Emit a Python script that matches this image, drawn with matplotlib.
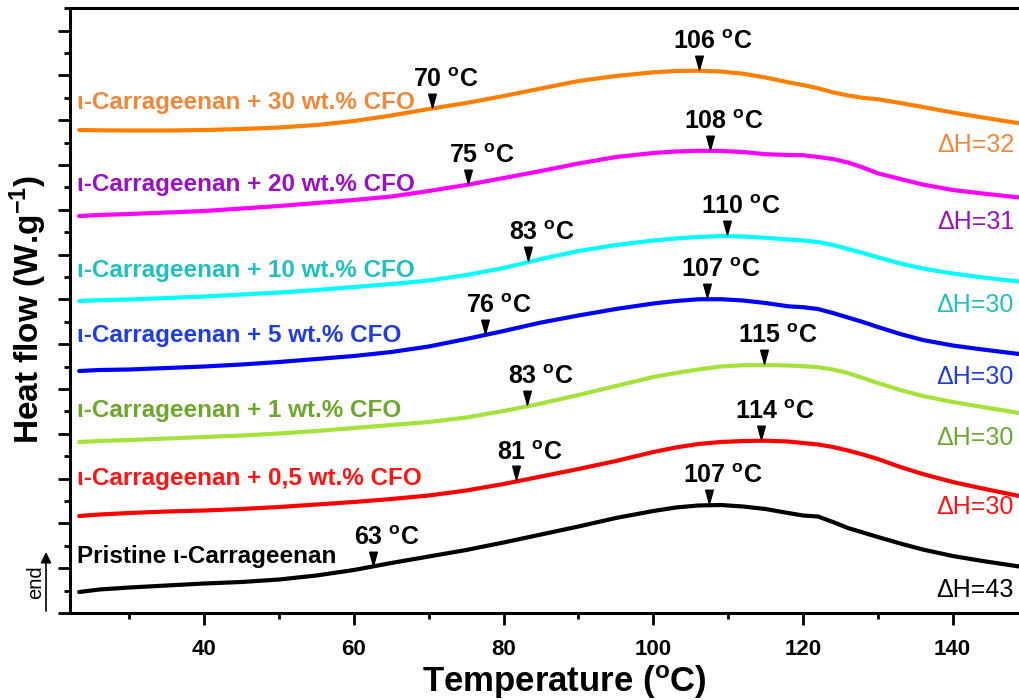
import matplotlib
matplotlib.use('Agg')
import matplotlib.pyplot as plt
import numpy as np
from matplotlib.path import Path
from matplotlib.ticker import MultipleLocator, NullFormatter

plt.rcParams['font.family'] = ['Liberation Sans', 'DejaVu Sans']
plt.rcParams['mathtext.fontset'] = 'custom'
plt.rcParams['mathtext.rm'] = 'Liberation Sans'
plt.rcParams['mathtext.bf'] = 'Liberation Sans:bold'
plt.rcParams['mathtext.it'] = 'Liberation Sans:italic'

# ---------------- data (heat flow in arbitrary, stacked units) ----------------
temperature = [23.3, 26, 30, 35, 40, 45, 50, 55, 60, 65, 70, 75, 80, 85, 90, 95, 100,
               103, 106, 109, 112, 115, 118, 120, 122, 124, 126, 128, 130, 133, 136,
               140, 144, 148.9]

hf_pristine = [21, 23.5, 25.5, 27.5, 29.5, 31, 33.5, 37.5, 43, 50, 56.5, 63, 70.5, 78.5,
               86.5, 95, 102, 105.5, 107.5, 108, 106.5, 104, 100, 97.5, 96.5, 91, 85, 80.5,
               76, 69.5, 63.5, 57, 52, 46.5]
hf_cfo_0_5 = [97, 98.5, 100, 101.5, 102.5, 104, 106, 108.5, 111, 114, 117.5, 122.5, 129,
              136.5, 144, 152, 161, 165.5, 169, 171, 172, 172.3, 171.5, 170, 168.5, 166,
              162.5, 158.5, 154, 146, 139, 131, 124.5, 117]
hf_cfo_1 = [171, 172, 173, 174.5, 176, 177.5, 179.5, 182, 185, 188, 191, 195.5, 202, 209.5,
            218, 227, 236, 240, 243.5, 246.5, 247.8, 248, 247.5, 246.8, 245.8, 243.5, 240,
            235, 230, 223, 217, 211, 206, 200]
hf_cfo_5 = [242, 243, 243.5, 245, 246.5, 248.5, 251, 254, 257, 261, 266.5, 274, 282, 290.5,
            297.5, 304, 309.5, 312, 313.7, 313.8, 312.5, 310, 306.7, 305.8, 304, 300, 295.5,
            291, 286, 279, 273, 267.5, 263.5, 259]
hf_cfo_10 = [312, 312.8, 313.5, 315, 316.5, 318.5, 320.5, 323, 326, 329, 332.5, 338, 345, 354,
             362, 368, 372.5, 374.5, 376, 377, 376.5, 375.2, 373.5, 372.5, 371, 368, 364, 360,
             355.7, 349.5, 344.5, 339.5, 335.5, 331.5]
hf_cfo_20 = [397, 398, 399, 400.5, 402, 404.5, 407, 410, 413, 416.5, 422, 428, 435, 442,
             449.5, 456, 460, 461.5, 462.2, 462.1, 461, 458.8, 458, 457.8, 456, 454, 450.5,
             445.5, 439.7, 434, 428.5, 423, 419.5, 415.5]
hf_cfo_30 = [483, 482.7, 482.5, 482.5, 483, 484, 485.5, 488, 492, 497.5, 504, 510, 517,
             524.5, 532, 537, 540.7, 542, 542.3, 541.5, 539.3, 535.5, 530.7, 528, 524.7,
             520.7, 517.5, 515.2, 513.7, 510, 506, 500.5, 495.5, 489.7]

sample_names = ['Pristine \u03b9-Carrageenan',
                '\u03b9-Carrageenan + 0,5 wt.% CFO',
                '\u03b9-Carrageenan + 1 wt.% CFO',
                '\u03b9-Carrageenan + 5 wt.% CFO',
                '\u03b9-Carrageenan + 10 wt.% CFO',
                '\u03b9-Carrageenan + 20 wt.% CFO',
                '\u03b9-Carrageenan + 30 wt.% CFO']
delta_h = [43, 30, 30, 30, 30, 31, 32]
onset_labels = ['63', '81', '83', '76', '83', '75', '70']
onset_marks = [62.5, 81.7, 83.1, 77.5, 83.2, 75.3, 70.4]
peak_labels = ['107', '114', '115', '107', '110', '108', '106']
peak_marks = [107.5, 114.4, 114.8, 107.2, 109.9, 107.6, 106.1]

series = [hf_pristine, hf_cfo_0_5, hf_cfo_1, hf_cfo_5, hf_cfo_10, hf_cfo_20, hf_cfo_30]

# ---------------- styles ----------------
line_colors = ['#000000', '#FF0000', '#A3E33A', '#0000FF', '#00FFFF', '#FF00FF', '#FF8000']
text_colors = ['#000000', '#FF1414', '#6CA82A', '#1E3CEB', '#20C0C0', '#9A10C4', '#F0883A']
name_y = [57, 134, 202, 277, 342, 428, 510]
dh_y = [23, 106, 175, 236, 308, 391, 468]

fig = plt.figure(figsize=(10.19, 7.0), dpi=100)
ax = fig.add_axes([70 / 1019, 87 / 700, 949 / 1019, 605 / 700])

tri = Path([(-0.55, 2.2), (0.55, 2.2), (0, 0.2), (-0.55, 2.2)],
           [Path.MOVETO, Path.LINETO, Path.LINETO, Path.CLOSEPOLY])

T = np.array(temperature)
for i, hf in enumerate(series):
    hf = np.array(hf)
    ax.plot(T, hf, color=line_colors[i], lw=3.0, solid_joinstyle='round',
            solid_capstyle='round', zorder=3)
    for marks, labs in ((onset_marks, onset_labels), (peak_marks, peak_labels)):
        mx = marks[i]
        my = np.interp(mx, T, hf)
        ax.plot([mx], [my], marker=tri, ms=22, color='black', ls='none', zorder=4)
        lab = labs[i]
        dx = -13.7 if len(lab) == 2 else -18.7
        ax.annotate(lab + r' $^{\mathbf{o}}$C', xy=(mx, my), xytext=(dx, 15.8),
                    textcoords='offset points', ha='left', va='baseline',
                    fontsize=18, fontweight='bold', color='black', zorder=5)
    ax.text(23.0, name_y[i], sample_names[i], color=text_colors[i], fontsize=17.5,
            fontweight='bold', ha='left', va='center', zorder=5)
    ax.text(148.2, dh_y[i], '\u0394H=%d' % delta_h[i], color=text_colors[i], fontsize=18,
            ha='right', va='center', zorder=5)

ax.set_xlim(22.07, 148.86)
ax.set_ylim(0, 605)
ax.xaxis.set_major_locator(MultipleLocator(20))
ax.xaxis.set_minor_locator(MultipleLocator(10))
ax.yaxis.set_major_locator(MultipleLocator(44.8))
ax.yaxis.set_minor_locator(MultipleLocator(22.4))
ax.yaxis.set_major_formatter(NullFormatter())

for s in ('left', 'bottom', 'top'):
    ax.spines[s].set_linewidth(2.2)
ax.spines['right'].set_visible(False)
ax.tick_params(which='major', direction='out', length=8.5, width=2.0, labelsize=16, pad=10,
               top=False, right=False)
ax.tick_params(which='minor', direction='out', length=4.5, width=2.0, top=False, right=False)
for lbl in ax.get_xticklabels():
    lbl.set_fontweight('bold')

fig.text(564 / 1019, (700 - 682) / 700, r'Temperature ($^{\mathbf{o}}$C)', fontsize=25,
         fontweight='bold', ha='center', va='center')
fig.text(28 / 1019, (700 - 309) / 700, r'Heat flow (W.g$^{\mathbf{-1}}$)', fontsize=24,
         fontweight='bold', ha='center', va='center', rotation=90)

# endothermic direction arrow
ax.annotate('', xy=(46 / 1019, (700 - 552) / 700), xytext=(46 / 1019, (700 - 611) / 700),
            xycoords='figure fraction', textcoords='figure fraction',
            arrowprops=dict(arrowstyle='-|>', lw=1.2, color='black', mutation_scale=16,
                            shrinkA=0, shrinkB=0), annotation_clip=False)
fig.text(36 / 1019, (700 - 582) / 700, 'end', fontsize=14.5, rotation=90,
         ha='center', va='center')

fig.savefig('out.png', dpi=100)
